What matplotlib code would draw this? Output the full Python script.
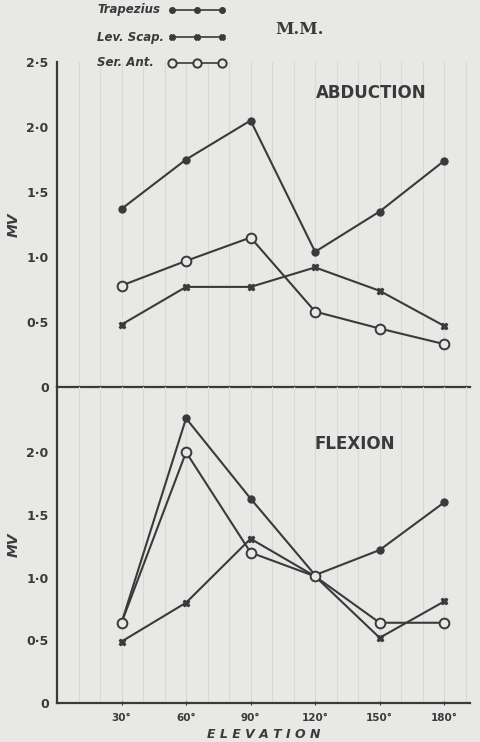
import matplotlib
matplotlib.use("Agg")
import matplotlib.pyplot as plt
from matplotlib.lines import Line2D
from matplotlib.ticker import MultipleLocator

# ── Data ─────────────────────────────────────────────────────────────────────
elevation = [30, 60, 90, 120, 150, 180]
x_labels = ["30°", "60°", "90°", "120°", "150°", "180°"]

abd_trapezius = [1.37, 1.75, 2.05, 1.04, 1.35, 1.74]
abd_lev_scap = [0.48, 0.77, 0.77, 0.92, 0.74, 0.47]
abd_ser_ant = [0.78, 0.97, 1.15, 0.58, 0.45, 0.33]

flx_trapezius = [0.64, 2.27, 1.63, 1.02, 1.22, 1.60]
flx_lev_scap = [0.49, 0.80, 1.31, 1.01, 0.52, 0.81]
flx_ser_ant = [0.64, 2.00, 1.20, 1.01, 0.64, 0.64]

top_ticks = [0, 0.5, 1.0, 1.5, 2.0, 2.5]
top_tick_labels = ["0", "0·5", "1·0", "1·5", "2·0", "2·5"]
bot_ticks = [0, 0.5, 1.0, 1.5, 2.0]
bot_tick_labels = ["0", "0·5", "1·0", "1·5", "2·0"]

legend_labels = ["Trapezius", "Lev. Scap.", "Ser. Ant."]

# ── Style ────────────────────────────────────────────────────────────────────
BG = "#e8e8e6"
INK = "#3a3a3a"
GRID = "#d8d8d6"

styles = {
    "trap": dict(marker="o", markersize=5, markerfacecolor=INK, markeredgecolor=INK),
    "lev": dict(marker="X", markersize=5, markerfacecolor=INK, markeredgecolor=INK),
    "ser": dict(marker="o", markersize=7, markerfacecolor=BG, markeredgecolor=INK,
                markeredgewidth=1.4),
}

fig = plt.figure(figsize=(4.8, 7.42), dpi=100)
fig.patch.set_facecolor(BG)

left, right = 57 / 480, 470 / 480
ax_top = fig.add_axes([left, 1 - 387 / 742, right - left, (387 - 62) / 742])
ax_bot = fig.add_axes([left, 1 - 703 / 742, right - left, (703 - 387) / 742])


def style_axis(ax):
    ax.patch.set_visible(False)
    ax.set_xlim(0, 192)
    for s in ["top", "right"]:
        ax.spines[s].set_visible(False)
    for s in ["left", "bottom"]:
        ax.spines[s].set_color(INK)
        ax.spines[s].set_linewidth(1.6)
    ax.xaxis.set_minor_locator(MultipleLocator(10))
    ax.xaxis.grid(True, which="both", color=GRID, linewidth=0.8)
    ax.set_axisbelow(True)
    ax.tick_params(axis="y", length=0, labelsize=9, colors=INK, pad=6)
    for lbl in ax.get_yticklabels():
        lbl.set_fontweight("bold")


def plot_series(ax, trap, lev, ser):
    kw = dict(color=INK, linewidth=1.5)
    ax.plot(elevation, trap, **kw, **styles["trap"])
    ax.plot(elevation, lev, **kw, **styles["lev"])
    ax.plot(elevation, ser, **kw, **styles["ser"])


# ── Abduction ──
plot_series(ax_top, abd_trapezius, abd_lev_scap, abd_ser_ant)
ax_top.set_ylim(0, 2.5)
ax_top.set_yticks(top_ticks)
ax_top.set_yticklabels(top_tick_labels)
ax_top.set_xticks([])
ax_top.tick_params(axis="x", which="both", length=0)
style_axis(ax_top)
ax_top.set_ylabel("MV", fontsize=10, fontstyle="italic", fontweight="bold",
                  color=INK, labelpad=4)
ax_top.text(0.76, 0.905, "ABDUCTION", transform=ax_top.transAxes, ha="center",
            va="center", fontsize=12, fontweight="bold", color=INK)

# ── Flexion ──
plot_series(ax_bot, flx_trapezius, flx_lev_scap, flx_ser_ant)
ax_bot.set_ylim(0, 2.52)
ax_bot.set_yticks(bot_ticks)
ax_bot.set_yticklabels(bot_tick_labels)
ax_bot.set_xticks(elevation)
ax_bot.set_xticklabels(x_labels, fontsize=7.5, fontweight="bold", color=INK)
ax_bot.tick_params(axis="x", which="major", length=3, direction="inout", colors=INK, pad=6)
ax_bot.tick_params(axis="x", which="minor", length=0)
style_axis(ax_bot)
ax_bot.set_ylabel("MV", fontsize=10, fontstyle="italic", fontweight="bold",
                  color=INK, labelpad=4)
ax_bot.set_xlabel("E L E V A T I O N", fontsize=9, fontstyle="italic",
                  fontweight="bold", color=INK, labelpad=3)
ax_bot.text(0.72, 0.82, "FLEXION", transform=ax_bot.transAxes, ha="center",
            va="center", fontsize=12, fontweight="bold", color=INK)

# ── Title and hand-drawn style key ──
fig.text(300 / 480, 1 - 30 / 742, "M.M.", ha="center", va="center",
         fontsize=12, fontweight="bold", color=INK, family="DejaVu Serif")

key_y = [10, 37, 63]
for label, key, y in zip(legend_labels, ["trap", "lev", "ser"], key_y):
    yf = 1 - y / 742
    fig.text(97 / 480, yf, label, ha="left", va="center", fontsize=8.5,
             fontstyle="italic", fontweight="bold", color=INK)
    st = dict(styles[key])
    st["markersize"] = st["markersize"] - 1
    fig.add_artist(Line2D([172 / 480, 197 / 480, 222 / 480], [yf, yf, yf],
                          transform=fig.transFigure, color=INK, linewidth=1.2, **st))

fig.savefig("out.png", dpi=100, facecolor=BG)
